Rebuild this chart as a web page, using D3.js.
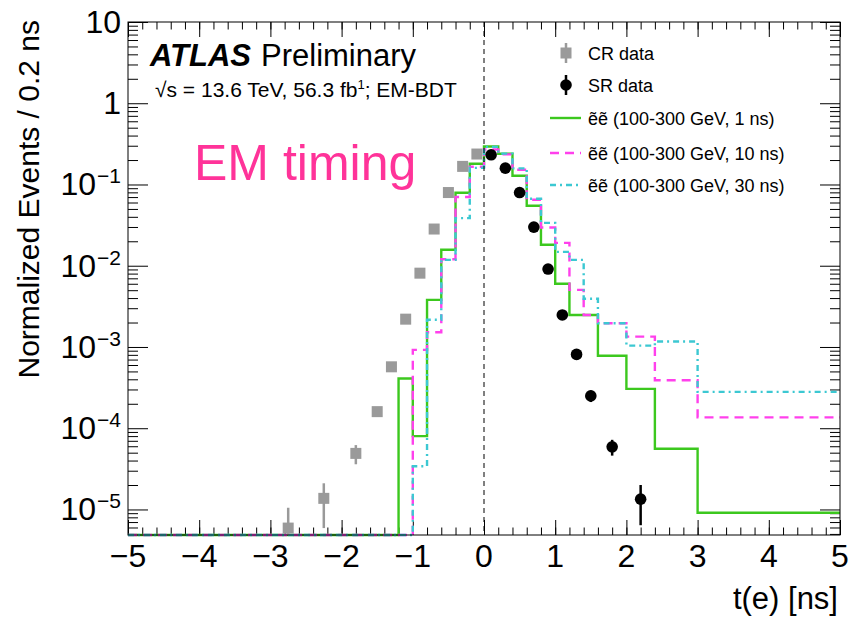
<!DOCTYPE html>
<html>
<head>
<meta charset="utf-8">
<script src="https://cdn.jsdelivr.net/npm/d3@7"></script>
<style>
  body { margin: 0; background: #fff; }
  svg { display: block; }
  text { font-family: "Liberation Sans", Arial, Helvetica, sans-serif; fill: #000; }
</style>
</head>
<body>
<svg id="plot" width="852" height="622"></svg>
<script>
// bin edges (ns) shared by the signal histograms
const binEdges = [-5, -3, -2.5, -2, -1.6, -1.4, -1.2, -1, -0.8, -0.6, -0.4, -0.2, 0, 0.2, 0.4, 0.6, 0.8, 1, 1.2, 1.4, 1.6, 2, 2.4, 3, 5];

// signal shapes, one value per bin
const sig1ns  = [0, 0, 0, 0, 0, 0, 4.1e-4, 8.0e-5, 0.0038, 0.0157, 0.079, 0.18, 0.294, 0.239, 0.128, 0.0547, 0.0181, 0.0060, 0.00248, 0.00248, 7.8e-4, 3.05e-4, 5.6e-5, 9.1e-6];
const sig10ns = [0, 0, 0, 0, 0, 0, 0, 9.2e-4, 0.00152, 0.0120, 0.070, 0.165, 0.27, 0.235, 0.152, 0.0649, 0.0295, 0.0191, 0.00505, 0.00248, 0.00196, 0.00134, 3.9e-4, 1.36e-4];
const sig30ns = [0, 0, 0, 0, 0, 0, 0, 3.4e-5, 0.00216, 0.0118, 0.0386, 0.16, 0.29, 0.24, 0.158, 0.0667, 0.0337, 0.0148, 0.0118, 0.00392, 0.00196, 0.00104, 0.00117, 2.8e-4];

// CR data
const crT     = [-2.75, -2.25, -1.8, -1.5, -1.3, -1.1, -0.9, -0.7, -0.5, -0.3, -0.1];
const crVal   = [5.9e-6, 1.37e-5, 4.9e-5, 1.6e-4, 5.7e-4, 0.0022, 0.0081, 0.0283, 0.0796, 0.167, 0.237];
const crErrUp = [4.6e-6, 7.3e-6, 1.3e-5, 1.2e-5, 2.3e-5, 5e-5, 1e-4, 2e-4, 4e-4, 6e-4, 7e-4];
const crErrDn = [5.9e-6, 7.8e-6, 1.3e-5, 1.2e-5, 2.3e-5, 5e-5, 1e-4, 2e-4, 4e-4, 6e-4, 7e-4];

// SR data
const srT     = [0.1, 0.3, 0.5, 0.7, 0.9, 1.1, 1.3, 1.5, 1.8, 2.2];
const srVal   = [0.232, 0.159, 0.0796, 0.0299, 0.0091, 0.00248, 8.1e-4, 2.5e-4, 5.9e-5, 1.34e-5];
const srErrUp = [0.004, 0.003, 0.002, 0.001, 5e-4, 2e-4, 9e-5, 4e-5, 1.3e-5, 6.6e-6];
const srErrDn = [0.004, 0.003, 0.002, 0.001, 5e-4, 2e-4, 9e-5, 4e-5, 1.3e-5, 7e-6];

// axis labels
const xTicks = [-5, -4, -3, -2, -1, 0, 1, 2, 3, 4, 5];
const xTickLabels = ["\u22125", "\u22124", "\u22123", "\u22122", "\u22121", "0", "1", "2", "3", "4", "5"];
const yTicks = [1e-5, 1e-4, 1e-3, 1e-2, 1e-1, 1, 10];
const yTickBase = ["10", "10", "10", "10", "10", "1", "10"];
const yTickExp = ["\u22125", "\u22124", "\u22123", "\u22122", "\u22121", "", ""];

const legendLabels = ["CR data", "SR data", "\u1EBD\u1EBD (100-300 GeV, 1 ns)", "\u1EBD\u1EBD (100-300 GeV, 10 ns)", "\u1EBD\u1EBD (100-300 GeV, 30 ns)"];

const frame = { left: 128, right: 840, top: 22, bottom: 535 };
const yMin = 4.85e-6;

const x = d3.scaleLinear().domain([-5, 5]).range([frame.left, frame.right]);
const y = d3.scaleLog().domain([yMin, 10]).range([frame.bottom, frame.top]);
const yc = v => y(Math.max(v, yMin));

const svg = d3.select("#plot");

const green = "#3cc81e", magenta = "#ff40ec", cyan = "#3cc8d2", grey = "#9a9a9a";
const styles = [
  { vals: sig1ns, color: green, dash: null },
  { vals: sig10ns, color: magenta, dash: "9,6" },
  { vals: sig30ns, color: cyan, dash: "6,4,2,4" }
];

// ticks (inside, all four sides)
const xMinor = d3.range(0, 51).map(i => -5 + i * 0.2);
const yMinor = [];
for (let d = -6; d <= 1; d++) for (let k = 2; k <= 9; k++) {
  const v = k * Math.pow(10, d);
  if (v > yMin && v < 10) yMinor.push(v);
}

const axes = svg.append("g").attr("id", "axes");
function addAxis(axisFn, scale, tx, ty, vals, size) {
  const g = axes.append("g")
    .attr("transform", `translate(${tx},${ty})`)
    .call(axisFn(scale).tickValues(vals).tickSize(-size).tickFormat(""));
  g.select(".domain").remove();
  g.selectAll("line").attr("stroke", "#000").attr("stroke-width", 1);
}
addAxis(d3.axisBottom, x, 0, frame.bottom, xMinor, 7.5);
addAxis(d3.axisBottom, x, 0, frame.bottom, xTicks, 15);
addAxis(d3.axisTop, x, 0, frame.top, xMinor, 7.5);
addAxis(d3.axisTop, x, 0, frame.top, xTicks, 15);
addAxis(d3.axisLeft, y, frame.left, 0, yMinor, 10);
addAxis(d3.axisLeft, y, frame.left, 0, yTicks, 20);
addAxis(d3.axisRight, y, frame.right, 0, yMinor, 10);
addAxis(d3.axisRight, y, frame.right, 0, yTicks, 20);

// histograms
const stepLine = d3.line()
  .x(d => x(d[0]))
  .y(d => yc(d[1]))
  .curve(d3.curveStepAfter);
const hists = svg.append("g").attr("id", "hists");
styles.forEach(s => {
  const pts = s.vals.map((v, i) => [binEdges[i], v]);
  pts.push([binEdges[binEdges.length - 1], s.vals[s.vals.length - 1]]);
  hists.append("path")
    .attr("d", stepLine(pts))
    .attr("fill", "none")
    .attr("stroke", s.color)
    .attr("stroke-width", 2.4)
    .attr("stroke-dasharray", s.dash);
});

// zero line
svg.append("line")
  .attr("x1", x(0)).attr("x2", x(0))
  .attr("y1", frame.top).attr("y2", frame.bottom)
  .attr("stroke", "#000").attr("stroke-width", 1).attr("stroke-dasharray", "5,4");

// data points
const points = svg.append("g").attr("id", "points");
crT.forEach((t, i) => {
  points.append("line")
    .attr("x1", x(t)).attr("x2", x(t))
    .attr("y1", yc(crVal[i] + crErrUp[i])).attr("y2", yc(crVal[i] - crErrDn[i]))
    .attr("stroke", grey).attr("stroke-width", 2.5);
  points.append("rect")
    .attr("x", x(t) - 5.5).attr("y", yc(crVal[i]) - 5.5)
    .attr("width", 11).attr("height", 11)
    .attr("fill", grey);
});
srT.forEach((t, i) => {
  points.append("line")
    .attr("x1", x(t)).attr("x2", x(t))
    .attr("y1", yc(srVal[i] + srErrUp[i])).attr("y2", yc(srVal[i] - srErrDn[i]))
    .attr("stroke", "#000").attr("stroke-width", 2.5);
  points.append("circle")
    .attr("cx", x(t)).attr("cy", yc(srVal[i]))
    .attr("r", 5.8)
    .attr("fill", "#000");
});

// frame
svg.append("rect")
  .attr("x", frame.left).attr("y", frame.top)
  .attr("width", frame.right - frame.left).attr("height", frame.bottom - frame.top)
  .attr("fill", "none").attr("stroke", "#000").attr("stroke-width", 1);

// tick labels
const labels = svg.append("g").attr("id", "labels").attr("font-size", 32);
labels.selectAll(".xl").data(xTicks).join("text")
  .attr("class", "xl")
  .attr("x", d => x(d)).attr("y", 567)
  .attr("text-anchor", "middle")
  .text((d, i) => xTickLabels[i]);
const yl = labels.selectAll(".yl").data(yTicks).join("text")
  .attr("class", "yl")
  .attr("x", 121).attr("y", d => y(d) + 11)
  .attr("text-anchor", "end");
yl.append("tspan").text((d, i) => yTickBase[i]);
yl.append("tspan")
  .attr("font-size", 21).attr("dy", -12).attr("dx", 1)
  .text((d, i) => yTickExp[i]);

// axis titles
svg.append("text")
  .attr("x", 838).attr("y", 609)
  .attr("text-anchor", "end").attr("font-size", 31)
  .text("t(e) [ns]");
svg.append("text")
  .attr("transform", "translate(39,20) rotate(-90)")
  .attr("text-anchor", "end").attr("font-size", 30)
  .text("Normalized Events / 0.2 ns");

// ATLAS label
svg.append("text")
  .attr("x", 150).attr("y", 66)
  .attr("font-size", 31).attr("font-weight", "bold").attr("font-style", "italic")
  .text("ATLAS");
svg.append("text")
  .attr("x", 261).attr("y", 66)
  .attr("font-size", 31)
  .text("Preliminary");
const lumi = svg.append("text")
  .attr("x", 155).attr("y", 97)
  .attr("font-size", 21);
lumi.append("tspan").text("\u221As = 13.6 TeV, 56.3 fb");
lumi.append("tspan").attr("font-size", 13).attr("dy", -8).text("1");
lumi.append("tspan").attr("dy", 8).text("; EM-BDT");

// legend
const legendY = [53, 85, 118, 153, 185];
const legend = svg.append("g").attr("id", "legend");
legendLabels.forEach((lab, i) => {
  const ry = legendY[i];
  if (i === 0) {
    legend.append("line").attr("x1", 566).attr("x2", 566).attr("y1", ry - 10).attr("y2", ry + 10)
      .attr("stroke", grey).attr("stroke-width", 2.5);
    legend.append("rect").attr("x", 560.5).attr("y", ry - 5.5).attr("width", 11).attr("height", 11).attr("fill", grey);
  } else if (i === 1) {
    legend.append("line").attr("x1", 566).attr("x2", 566).attr("y1", ry - 10).attr("y2", ry + 10)
      .attr("stroke", "#000").attr("stroke-width", 2.5);
    legend.append("circle").attr("cx", 566).attr("cy", ry).attr("r", 5.8).attr("fill", "#000");
  } else {
    const s = styles[i - 2];
    legend.append("line").attr("x1", 550).attr("x2", 581).attr("y1", ry).attr("y2", ry)
      .attr("stroke", s.color).attr("stroke-width", 2.4).attr("stroke-dasharray", s.dash);
  }
  legend.append("text")
    .attr("x", 588).attr("y", ry + 6.5)
    .attr("font-size", 18)
    .text(lab);
});

// overlay annotation
svg.append("text")
  .attr("x", 194).attr("y", 180)
  .attr("font-family", "Lato, 'Open Sans', sans-serif")
  .attr("font-size", 50)
  .style("fill", "#ff3399")
  .text("EM timing");
</script>
</body>
</html>
